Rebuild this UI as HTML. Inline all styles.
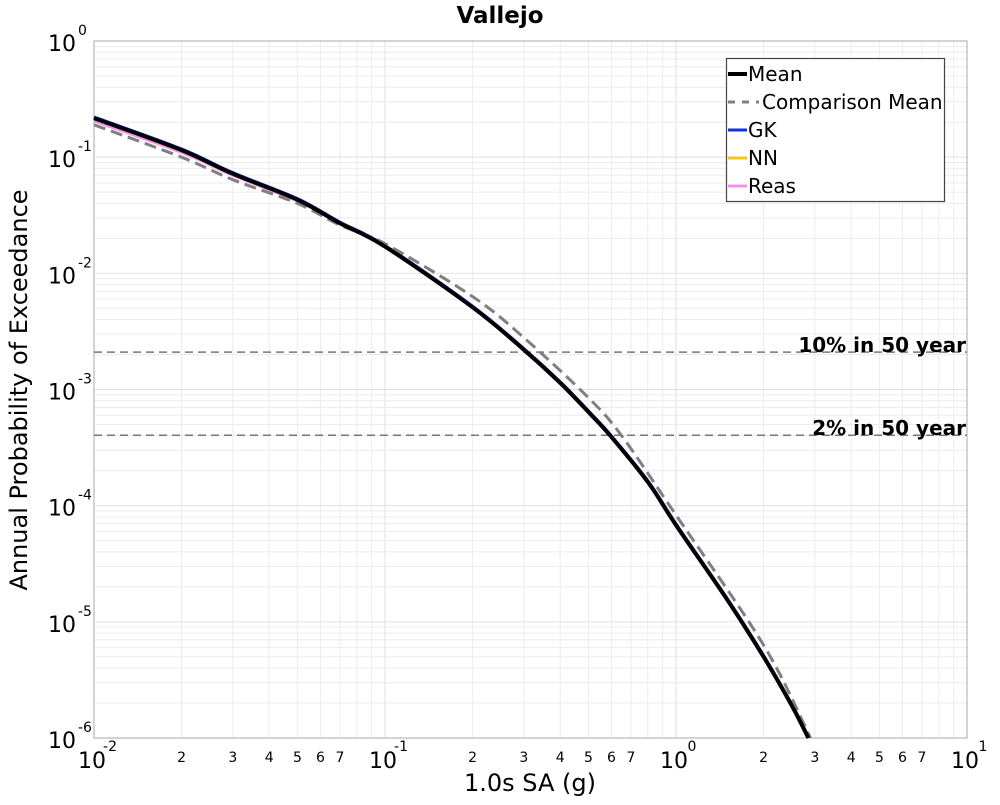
<!DOCTYPE html>
<html><head><meta charset="utf-8"><style>
body{margin:0;background:#fff}
svg text{font-family:"DejaVu Sans","Liberation Sans",sans-serif}
</style></head><body>
<svg id="c" width="1000" height="800" xmlns="http://www.w3.org/2000/svg">
<rect width="1000" height="800" fill="#fff"/>
<g id="grid"></g>
<g id="axes"></g>
<g id="series"></g>
<g id="legend"></g>
</svg>
<script>
const xVals=[0.01,0.02,0.03,0.05,0.07,0.1,0.2,0.3,0.4,0.5,0.6,0.8,1.0,1.5,2.0,2.5,2.85];
const meanVals=[0.217,0.115,0.072,0.043,0.027,0.017,0.0051,0.0022,0.00114,0.00064,0.00039,0.00016,0.000068,0.0000155,0.000005,0.0000019,0.000001];
const cmpX=[0.01,0.02,0.03,0.05,0.07,0.1,0.2,0.3,0.5,0.65,1.0,2.0,2.9];
const cmpVals=[0.19,0.1,0.064,0.040,0.026,0.018,0.0063,0.0028,0.00085,0.0004,0.000083,0.0000063,0.000001];
const reasVals=[0.205,0.11,0.07,0.042,0.027,0.017,0.0051,0.0022,0.00114,0.00064,0.00039,0.00016,0.000068,0.0000155,0.000005,0.0000019,0.000001];
const refLevels=[0.0021,0.000404];
const refLabels=["10% in 50 year","2% in 50 year"];
const xDecades=[-2,-1,0,1];
const yDecades=[0,-1,-2,-3,-4,-5,-6];

const L=94,R=967,T=41,B=738;
const NS="http://www.w3.org/2000/svg";
function X(v){return L+(Math.log10(v)+2)/3*(R-L);}
function Y(p){return T+(-Math.log10(p))/6*(B-T);}
function mk(tag,attrs,parent){const e=document.createElementNS(NS,tag);for(const k in attrs)e.setAttribute(k,attrs[k]);parent.appendChild(e);return e;}
const grid=document.getElementById('grid'),axes=document.getElementById('axes'),series=document.getElementById('series'),legend=document.getElementById('legend');

for(let d=-2;d<1;d++){for(let m=1;m<10;m++){const x=X(m*Math.pow(10,d));
 const g=mk('line',{x1:x,x2:x,y1:T,y2:B,stroke:m==1?'#e0e0e0':'#ececec','stroke-width':1},grid);
 
 }}
for(let d=-6;d<0;d++){for(let m=1;m<10;m++){const y=Y(m*Math.pow(10,d));
 const g=mk('line',{x1:L,x2:R,y1:y,y2:y,stroke:m==1?'#e0e0e0':'#ececec','stroke-width':1},grid);
 
 }}
const frame=mk('rect',{x:L,y:T,width:R-L,height:B-T,fill:'none',stroke:'#aaa','stroke-width':1},axes);



xDecades.forEach(d=>{const x=X(Math.pow(10,d));
 const t=mk('text',{x:x-2,y:768,'font-size':22,'text-anchor':'middle'},axes);t.textContent='10';
 
 
 const s=mk('text',{x:x+16,y:751,'font-size':14,'text-anchor':'middle'},axes);s.textContent=String(d);
 
 
 if(d<1){for(let m=2;m<=7;m++){const mt=mk('text',{x:X(m*Math.pow(10,d)),y:762,'font-size':14,'text-anchor':'middle'},axes);mt.textContent=String(m);
 
 }}
});
yDecades.forEach(d=>{const y=Y(Math.pow(10,d));
 const t=mk('text',{x:76,y:y+10,'font-size':22,'text-anchor':'end'},axes);t.textContent='10';
 
 
 const s=mk('text',{x:78,y:y-6,'font-size':14},axes);s.textContent=String(d);
 
 
});
const xt=mk('text',{x:530,y:791,'font-size':24,'text-anchor':'middle'},axes);xt.textContent='1.0s SA (g)';


const yt=mk('text',{x:27,y:390,'font-size':24,'text-anchor':'middle',transform:'rotate(-90 27 390)'},axes);yt.textContent='Annual Probability of Exceedance';


const ti=mk('text',{x:500,y:23,'font-size':23,'font-weight':'bold','text-anchor':'middle'},axes);ti.textContent='Vallejo';



refLevels.forEach((p,i)=>{const y=Y(p);
 const l=mk('line',{x1:L,x2:R,y1:y,y2:y,stroke:'#777','stroke-width':1.5,'stroke-dasharray':'8,5'},series);
 
 
 const t=mk('text',{x:966,y:y,'font-size':20,'font-weight':'bold','text-anchor':'end'},series);t.textContent=refLabels[i];
 
 
});
function path(xs,ys){
 const P=xs.map((v,i)=>[X(v),Y(ys[i])]);
 let d='M'+P[0][0].toFixed(1)+','+P[0][1].toFixed(1);
 for(let i=0;i<P.length-1;i++){
  const p0=P[Math.max(0,i-1)],p1=P[i],p2=P[i+1],p3=P[Math.min(P.length-1,i+2)];
  const c1=[p1[0]+(p2[0]-p0[0])/6,p1[1]+(p2[1]-p0[1])/6];
  const c2=[p2[0]-(p3[0]-p1[0])/6,p2[1]-(p3[1]-p1[1])/6];
  d+=' C'+c1[0].toFixed(1)+','+c1[1].toFixed(1)+' '+c2[0].toFixed(1)+','+c2[1].toFixed(1)+' '+p2[0].toFixed(1)+','+p2[1].toFixed(1);
 }
 return d;}
const pr=mk('path',{d:path(xVals,reasVals),fill:'none',stroke:'#f490e8','stroke-width':3},series);


const pn=mk('path',{d:path(xVals,meanVals),fill:'none',stroke:'#f5c518','stroke-width':3},series);


const pg=mk('path',{d:path(xVals,meanVals),fill:'none',stroke:'#1030e0','stroke-width':3.5,transform:'translate(0,-0.8)'},series);


const pc=mk('path',{d:path(cmpX,cmpVals),fill:'none',stroke:'#808080','stroke-width':3,'stroke-dasharray':'12,6'},series);


const pm=mk('path',{d:path(xVals,meanVals),fill:'none',stroke:'#000','stroke-width':4},series);



const lb=mk('rect',{x:726.5,y:58.5,width:218,height:143,fill:'#fff',stroke:'#444','stroke-width':1.2},legend);


const items=[["Mean","#000",false],["Comparison Mean","#808080",true],["GK","#1030e0",false],["NN","#f5c518",false],["Reas","#f490e8",false]];
items.forEach((it,i)=>{const y=74+i*28;
 const l=mk('line',{x1:728,x2:747,y1:y,y2:y,stroke:it[1],'stroke-width':it[0]=="Mean"?4:3},legend);
 if(it[2]){l.setAttribute('stroke-dasharray','7,7');l.setAttribute('x2',759);}
 
 
 const t=mk('text',{x:it[2]?762:748,y:y+7,'font-size':20},legend);t.textContent=it[0];
 
 
});
</script>
</body></html>
